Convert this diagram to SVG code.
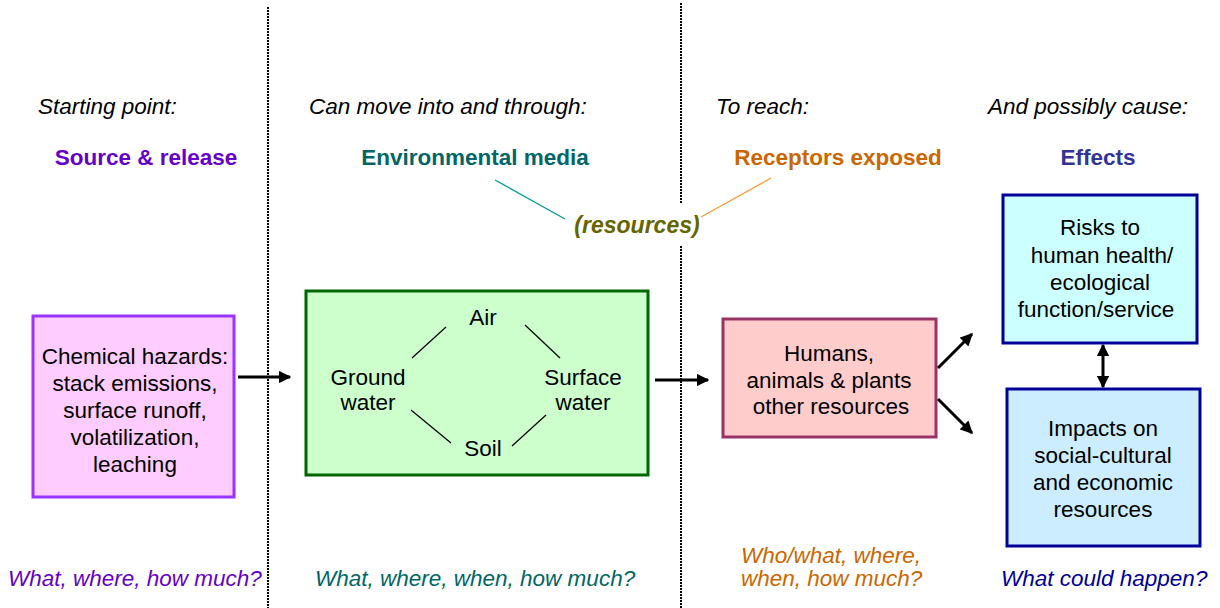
<svg xmlns="http://www.w3.org/2000/svg" width="1220" height="608" viewBox="0 0 1220 608">
  <defs>
    <marker id="head" viewBox="0 0 10 10" refX="9" refY="5" markerWidth="4.2" markerHeight="4.2" orient="auto-start-reverse" markerUnits="strokeWidth">
      <path d="M0,0 L10,5 L0,10 Z" fill="#000"/>
    </marker>
  </defs>
  <style>
    text { font-family: "Liberation Sans", Arial, sans-serif; }
    .q { font-size: 22.5px; font-style: italic; }
    .h { font-size: 22.5px; font-weight: bold; }
    .b { font-size: 22.5px; fill: #000; text-anchor: middle; }
    .sep { stroke: #000; stroke-width: 2; stroke-dasharray: 2 1; }
    .arr { stroke: #000; stroke-width: 3; fill: none; }
    .thin { stroke: #000; stroke-width: 1.2; }
  </style>
  <rect width="1220" height="608" fill="#fff"/>

  <!-- column separators -->
  <g id="separators">
    <line class="sep" x1="268" y1="7" x2="268" y2="608"/>
    <line class="sep" x1="681" y1="3" x2="681" y2="203"/>
    <line class="sep" x1="681" y1="246" x2="681" y2="608"/>
  </g>

  <!-- column headings -->
  <g id="headings">
    <text class="q" x="38" y="114">Starting point:</text>
    <text class="q" x="309" y="114">Can move into and through:</text>
    <text class="q" x="716" y="114">To reach:</text>
    <text class="q" x="988" y="114">And possibly cause:</text>
    <text class="h" x="146" y="165" text-anchor="middle" fill="#6600CC">Source &amp; release</text>
    <text class="h" x="475" y="165" text-anchor="middle" fill="#006666">Environmental media</text>
    <text class="h" x="838" y="165" text-anchor="middle" fill="#CC6600">Receptors exposed</text>
    <text class="h" x="1098" y="165" text-anchor="middle" fill="#333399">Effects</text>
  </g>

  <g id="resources-label">
    <line x1="495" y1="180" x2="565" y2="219" stroke="#009999" stroke-width="1.3"/>
    <line x1="771" y1="178" x2="701" y2="217" stroke="#FF9933" stroke-width="1.3"/>
    <text x="637" y="233" text-anchor="middle" font-size="23" font-weight="bold" font-style="italic" fill="#666600">(resources)</text>
  </g>

  <g id="source">
    <rect x="33" y="316" width="201" height="181" fill="#FFCCFF" stroke="#9933FF" stroke-width="3"/>
    <text class="b" x="135" y="364">Chemical hazards:</text>
    <text class="b" x="135" y="391">stack emissions,</text>
    <text class="b" x="135" y="418">surface runoff,</text>
    <text class="b" x="135" y="445">volatilization,</text>
    <text class="b" x="135" y="472">leaching</text>
  </g>

  <g id="media">
    <rect x="306" y="291" width="342" height="184" fill="#CCFFCC" stroke="#006600" stroke-width="3"/>
    <text class="b" x="483" y="325">Air</text>
    <text class="b" x="368" y="385">Ground</text>
    <text class="b" x="368" y="410">water</text>
    <text class="b" x="583" y="385">Surface</text>
    <text class="b" x="583" y="410">water</text>
    <text class="b" x="483" y="456">Soil</text>
    <line class="thin" x1="446" y1="327" x2="412" y2="358"/>
    <line class="thin" x1="525" y1="325" x2="560" y2="358"/>
    <line class="thin" x1="411" y1="410" x2="451" y2="443"/>
    <line class="thin" x1="546" y1="415" x2="512" y2="446"/>
  </g>

  <g id="receptors">
    <rect x="723" y="319" width="213" height="118" fill="#FFCCCC" stroke="#993366" stroke-width="3"/>
    <text class="b" x="829" y="361">Humans,</text>
    <text class="b" x="829" y="388">animals &amp; plants</text>
    <text class="b" x="831" y="414">other resources</text>
  </g>

  <g id="risks">
    <rect x="1003" y="195" width="194" height="148" fill="#CCFFFF" stroke="#000099" stroke-width="3"/>
    <text class="b" x="1100" y="235">Risks to</text>
    <text class="b" x="1102" y="263">human health/</text>
    <text class="b" x="1100" y="290">ecological</text>
    <text class="b" x="1096" y="317">function/service</text>
  </g>

  <g id="impacts">
    <rect x="1007" y="389" width="193" height="157" fill="#CCECFF" stroke="#000099" stroke-width="3"/>
    <text class="b" x="1103" y="436">Impacts on</text>
    <text class="b" x="1103" y="463">social-cultural</text>
    <text class="b" x="1103" y="490">and economic</text>
    <text class="b" x="1103" y="517">resources</text>
  </g>

  <!-- connectors -->
  <g id="connectors">
    <line class="arr" x1="238" y1="377" x2="290" y2="377" marker-end="url(#head)"/>
    <line class="arr" x1="655" y1="380" x2="708" y2="380" marker-end="url(#head)"/>
    <line class="arr" x1="938" y1="368" x2="972" y2="334" marker-end="url(#head)"/>
    <line class="arr" x1="938" y1="399" x2="972" y2="433" marker-end="url(#head)"/>
    <line class="arr" x1="1103" y1="345" x2="1103" y2="387" marker-start="url(#head)" marker-end="url(#head)"/>
  </g>

  <!-- guiding questions -->
  <g id="questions">
    <text class="q" x="8" y="586" fill="#6600CC">What, where, how much?</text>
    <text class="q" x="315" y="586" fill="#006666">What, where, when, how much?</text>
    <text class="q" x="741" y="563" fill="#CC6600">Who/what, where,</text>
    <text class="q" x="741" y="586" fill="#CC6600">when, how much?</text>
    <text class="q" x="1001" y="586" fill="#000099">What could happen?</text>
  </g>
</svg>
